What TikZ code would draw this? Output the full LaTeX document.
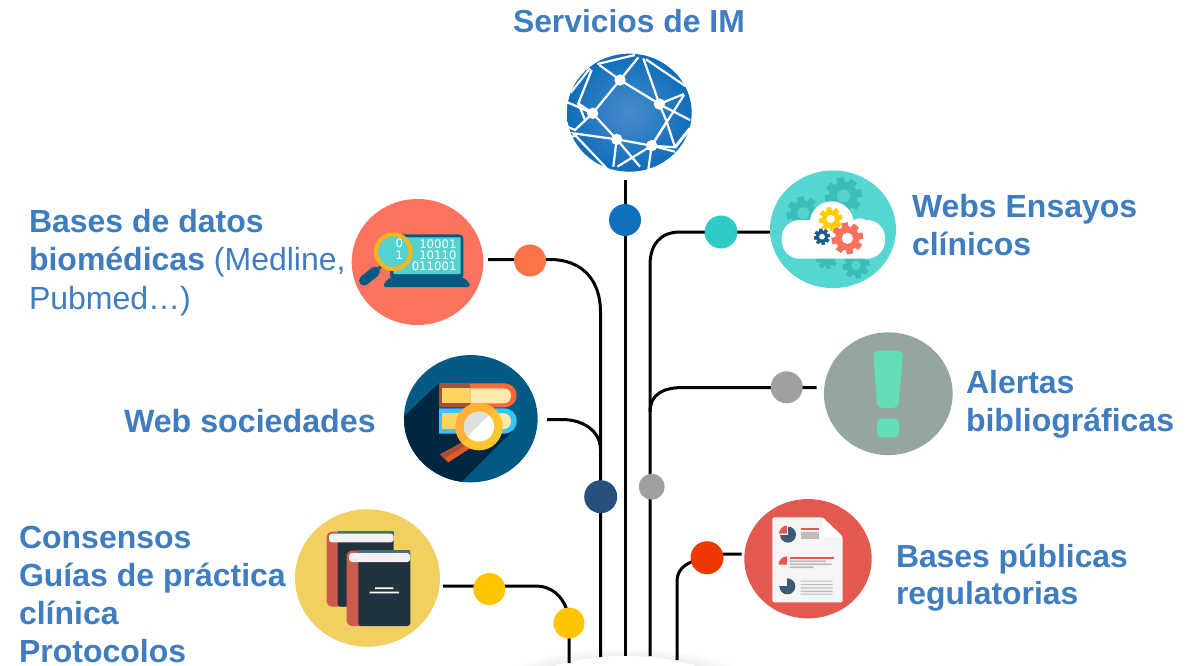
\documentclass[tikz,border=0pt]{standalone}
\usepackage{fontspec}
\usetikzlibrary{shapes.geometric,backgrounds}
\setmainfont{Liberation Sans}
\newfontfamily\monof{DejaVu Sans}
\definecolor{lbl}{HTML}{3F7DC0}
\definecolor{globeA}{HTML}{4A8CCB}
\definecolor{globeB}{HTML}{0E6DB9}
\definecolor{scr}{HTML}{55D2CF}
\definecolor{navy}{HTML}{045A85}
\definecolor{dk}{HTML}{01263F}
\definecolor{bookd}{HTML}{223340}
\definecolor{spine}{HTML}{CB5B4D}
\definecolor{pie}{HTML}{3D5A70}
\definecolor{repr}{HTML}{E3594F}
\definecolor{ringy}{HTML}{FDB614}
\definecolor{orng}{HTML}{FF6A33}
\definecolor{brwn}{HTML}{A94F33}
\definecolor{palep}{HTML}{FFE9AE}
\definecolor{yelp}{HTML}{FFD561}
\definecolor{skyb}{HTML}{35C6FF}
\definecolor{hand}{HTML}{E5582A}
\definecolor{ringa}{HTML}{FFC52F}
\definecolor{ringb}{HTML}{FFB13A}
\definecolor{teal2}{HTML}{466E82}
\definecolor{gbg}{HTML}{3CBDB6}
\definecolor{gy}{HTML}{FFCD00}
\definecolor{gn}{HTML}{1B5E87}
\definecolor{gr}{HTML}{F9705F}
\definecolor{mint}{HTML}{62DDB7}
\definecolor{rulec}{HTML}{BDBDBD}
\definecolor{icbases}{HTML}{FD7360}
\definecolor{iccons}{HTML}{F1CF60}
\definecolor{icens}{HTML}{55D6D0}
\definecolor{icalert}{HTML}{94A5A2}
\definecolor{dottop}{HTML}{0F70BE}
\definecolor{dotbases}{HTML}{FF7348}
\definecolor{dotweb}{HTML}{27507A}
\definecolor{dotcons}{HTML}{FFC600}
\definecolor{dotens}{HTML}{2ECBC7}
\definecolor{dotgrey}{HTML}{A0A0A2}
\definecolor{dotreg}{HTML}{EE3A00}
\newcommand\lblfont[2]{\fontsize{#1}{#2}\selectfont}
\newcommand\cogwheel[6]{%
  \foreach \a in {1,...,#4}{%
    \fill[#5,rotate around={\a*360/#4+10:(#1,#2)}] (#1-#3*0.2,#2-#3) rectangle (#1+#3*0.2,#2+#3);}%
  \fill[#5] (#1,#2) circle[radius=#3*0.78];
  \fill[#6] (#1,#2) circle[radius=#3*0.36];}
\tikzset{
  x=1pt,y=-1pt,
  wire/.style={line width=3pt,black},
  dotn/.style={circle,inner sep=0pt,outer sep=0pt,draw=none},
  icon/.style={ellipse,inner sep=0pt,outer sep=0pt,draw=none},
  lab/.style={anchor=north west,inner sep=0pt,outer sep=0pt,align=left,text=lbl,font=\bfseries\lblfont{32}{38.5}},
  zoomed/.style={scale=0.33333},
  glw/.style={line width=2.2pt,white}
}
\begin{document}
\begin{tikzpicture}
\useasboundingbox (0,0) rectangle (1201,665);
% icon discs
\node[icon,minimum width=125pt,minimum height=118pt] (globe) at (629.5,113) {};
\node[icon,fill=icbases,minimum width=131.6pt,minimum height=126pt] (iconbases) at (417.5,262) {};
\node[icon,fill=navy,minimum width=133.7pt,minimum height=127.3pt] (iconweb) at (470.8,418.7) {};
\node[icon,fill=iccons,minimum width=145pt,minimum height=137.4pt] (iconcons) at (367.5,578) {};
\node[icon,fill=icens,minimum width=126pt,minimum height=117.6pt] (iconens) at (833,229.3) {};
\node[icon,fill=icalert,minimum width=128.7pt,minimum height=122.7pt] (iconalert) at (888.3,393.7) {};
\node[icon,fill=repr,minimum width=127.4pt,minimum height=119.3pt] (iconreg) at (808,558.7) {};
% dots
\node[dotn,fill=dottop,minimum size=32pt] (dtop) at (625,220) {};
\node[dotn,fill=dotbases,minimum size=32pt] (dbases) at (530,260.5) {};
\node[dotn,fill=dotweb,minimum size=33pt] (dweb) at (600.7,496.7) {};
\node[dotn,fill=dotcons,minimum size=32pt] (dcons) at (489.3,589) {};
\node[dotn,fill=dotcons,minimum size=31pt] (dcons2) at (569,623) {};
\node[dotn,fill=dotens,minimum size=33pt] (dens) at (721,232) {};
\node[dotn,fill=dotgrey,minimum size=32pt] (dalert) at (786.7,387.3) {};
\node[dotn,fill=dotgrey,minimum size=26pt] (dgrey) at (651.7,486.7) {};
\node[dotn,fill=dotreg,minimum size=33pt] (dreg) at (707,557.7) {};
% wire ends
\coordinate (sglobe) at (625,180);
\coordinate (sbases) at (488,259.5);
\coordinate (sweb) at (547,419.5);
\coordinate (scons) at (443,586);
\coordinate (sens) at (770,232);
\coordinate (salert) at (816.7,387.5);
\coordinate (sreg) at (741.7,554);
\coordinate (bleft) at (600.5,657);
\coordinate (bmid) at (625,656);
\coordinate (bright) at (650,656);
\coordinate (breg) at (677,660);
\coordinate (bcons) at (569,663);
\begin{scope}[on background layer]
\fill[white] (0,0) rectangle (1201,665);
\begin{scope}
\clip (0,0) rectangle (1201,665);
\shade[inner color=black!22,outer color=white] (625,676) ellipse[x radius=118,y radius=28];
\fill[white] (625,700) ellipse[x radius=112,y radius=44];
\end{scope}
% wires
\draw[wire] (sglobe) -- (dtop.center) -- (bmid);
\draw[wire] (sbases) -- (550,259.5) .. controls (582,259.5) and (600.5,280) .. (600.5,312) -- (dweb.center) -- (bleft);
\draw[wire] (sweb) -- (562,419.5) .. controls (582,419.5) and (600.5,430) .. (600.5,450);
\draw[wire] (sens) -- (680,232) .. controls (660,232) and (650,245) .. (650,265) -- (bright);
\draw[wire] (salert) -- (683,387.5) .. controls (662,387.5) and (650,395) .. (650,412);
\draw[wire] (sreg) -- (707,554) -- (691.7,561.7) .. controls (682,566) and (677,572) .. (677,582) -- (breg);
\draw[wire] (scons) -- (535,586) .. controls (552,586) and (562,596) .. (567,610) -- (dcons2.center) -- (bcons);
\end{scope}
% globe
\begin{scope}[shift={(540,50)},zoomed]
\shade[inner color=globeA,outer color=globeB] (268,188) ellipse[x radius=187,y radius=177];
\draw[glw] (240,90) -- (358,162) -- (380,215) -- (335,287) -- (230,268) -- (158,190) -- cycle;
\draw[glw] (240,90) -- (178,45) (240,90) -- (295,22) (358,162) -- (310,25) (358,162) -- (432,132);
\draw[glw] (172,42) -- (285,15) (318,28) -- (436,108) (150,55) -- (92,128) (155,60) -- (115,160) -- (158,190);
\draw[glw] (158,190) -- (78,155) (158,190) -- (105,240) -- (75,228) (115,160) -- (135,210);
\draw[glw] (372,170) -- (450,210) (432,135) -- (335,287) (380,215) -- (405,292) -- (335,287);
\draw[glw] (230,268) -- (100,250) -- (200,355) (230,268) -- (220,350) (230,268) -- (300,350) (335,287) -- (232,350);
\draw[glw] (335,287) -- (325,358) (335,287) -- (405,305) (105,258) -- (85,262);
\draw[glw,line width=3pt] (450,235) -- (405,292);
\foreach \c in {(240,90),(358,162),(158,190),(230,268),(335,287)}
  \fill[white] \c circle[radius=17];
\end{scope}
% laptop icon
\begin{scope}[shift={(340,190)},zoomed]
\fill[navy,rounded corners=4pt] (150,133) rectangle (370,268);
\fill[scr,rounded corners=1pt] (160,142) rectangle (362,252);
\fill[navy,rounded corners=5pt] (150,260) -- (370,260) -- (397,291) -- (124,291) -- cycle;
\node[font=\monof\fontsize{11.7}{11}\selectfont,text=white,inner sep=0pt,align=right,anchor=east] (bits) at (350,197) {10001\\10110\\011001};
\draw[line width=10pt,line cap=round,navy] (105,245) -- (72,272);
\draw[line width=3pt,navy] (125,228) -- (100,248);
\fill[scr] (160,185) circle[radius=52];
\draw[line width=4pt,ringy] (160,185) circle[radius=52];
\node[font=\monof\fontsize{11.7}{12}\selectfont,text=white,inner sep=0pt,align=center] (bitsb) at (178,176) {0\\1};
\end{scope}
% books and magnifier icon
\begin{scope}[shift={(395,345)},zoomed]
\begin{scope}
\clip (227,221) ellipse[x radius=200,y radius=191];
\fill[dk] (132,115) -- (20,220) -- (20,420) -- (190,420) -- (350,260) -- (230,180) -- cycle;
\end{scope}
\fill[orng] (132,115) -- (325,115) .. controls (350,115) and (365,130) .. (365,151) .. controls (365,172) and (350,187) .. (325,187) -- (132,187) -- cycle;
\fill[brwn] (132,115) rectangle (226,187);
\fill[palep] (226,130) -- (325,130) .. controls (340,130) and (348,140) .. (348,152) .. controls (348,165) and (340,175) .. (325,175) -- (226,175) -- cycle;
\fill[yelp] (142,130) rectangle (226,175);
\fill[skyb] (132,190) -- (325,190) .. controls (350,190) and (365,205) .. (365,228) .. controls (365,250) and (350,266) .. (325,266) -- (132,266) -- cycle;
\fill[palep] (226,205) -- (325,205) .. controls (340,205) and (348,215) .. (348,228) .. controls (348,242) and (340,252) .. (325,252) -- (226,252) -- cycle;
\fill[yelp] (142,205) rectangle (226,252);
\fill[hand] (205,290) -- (225,310) -- (160,352) -- (135,328) -- cycle;
\fill[brwn] (205,290) -- (215,300) -- (147,340) -- (135,328) -- cycle;
\fill[ringa] (252,245) circle[radius=71];
\begin{scope}
\clip (252,245) circle[radius=71];
\fill[ringb] (180,316) -- (180,174) -- (320,174) -- cycle;
\end{scope}
\fill[white] (252,245) circle[radius=45];
\begin{scope}
\clip (252,245) circle[radius=45];
\fill[black!13] (205,285) -- (205,198) -- (295,198) -- cycle;
\end{scope}
\end{scope}
% red and dark books icon
\begin{scope}[shift={(285,500)},zoomed]
\fill[spine,rounded corners=5pt] (125,95) rectangle (190,320);
\fill[bookd,rounded corners=3pt] (158,95) rectangle (326,320);
\fill[teal2] (158,94) rectangle (326,102);
\fill[white!95!black,rounded corners=3pt] (132,101) rectangle (326,127);
\fill[spine,rounded corners=5pt] (185,152) rectangle (250,378);
\fill[bookd,rounded corners=3pt] (220,152) rectangle (376,378);
\fill[teal2] (220,151) rectangle (376,159);
\fill[white!95!black,rounded corners=3pt] (192,159) rectangle (376,186);
\fill[white] (270,262) rectangle (325,267) (254,275) rectangle (342,280);
\end{scope}
% cloud icon
\begin{scope}[shift={(760,160)},zoomed]
\cogwheel{250}{108}{55}{8}{gbg}{scr}
\cogwheel{130}{160}{50}{8}{gbg}{scr}
\cogwheel{200}{295}{32}{8}{gbg}{gbg}
\cogwheel{288}{315}{40}{8}{gbg}{scr}
\fill[white,rounded corners=18pt] (65,180) rectangle (375,296);
\fill[white] (215,190) circle[radius=66];
\fill[white] (300,205) circle[radius=30];
\cogwheel{212}{177}{35}{8}{gy}{white}
\cogwheel{186}{230}{24}{8}{gn}{white}
\cogwheel{262}{235}{47}{8}{gr}{white}
\end{scope}
% alert icon
\begin{scope}[shift={(630,330)},zoomed]
\fill[mint,rounded corners=5pt] (729,62) -- (820,62) -- (805,234) -- (742,234) -- cycle;
\fill[mint,rounded corners=5pt] (741,265) rectangle (808,322);
\end{scope}
% report icon
\begin{scope}[shift={(500,490)},zoomed]
\fill[black!4,rounded corners=2pt] (817,82) -- (968,82) -- (1028,140) -- (1028,337) -- (817,337) -- cycle;
\fill[white] (968,82) -- (1028,140) -- (968,140) -- cycle;
\fill[pie] (864,134) circle[radius=24];
\fill[black!4] (836,106) rectangle (864,134);
\fill[repr] (861,131) -- (837,131) arc[start angle=180,end angle=270,radius=24] -- cycle;
\fill[repr] (902,113) rectangle (956,119);
\fill[rulec] (902,126) rectangle (956,148);
\fill[repr] (861,224) -- (836,224) arc[start angle=180,end angle=270,radius=25] -- cycle;
\fill[repr] (869,200) rectangle (1001,206);
\fill[rulec] (869,211) rectangle (978,216) (869,220) rectangle (995,225) (869,229) rectangle (941,234);
\fill[pie] (862,289) circle[radius=24];
\fill[black!4] (838,265) rectangle (862,289);
\fill[rulec] (902,272) rectangle (998,275) (902,282) rectangle (998,285) (902,292) rectangle (998,296) (902,302) rectangle (998,306) (902,311) rectangle (998,314);
\end{scope}
% labels
\node[lab,font=\bfseries\lblfont{31.85}{38}] (ltop) at (513,9) {Servicios de IM};
\node[lab] (lbases) at (29,209) {Bases de datos\\biomédicas {\mdseries (Medline,}\\{\mdseries Pubmed…)}};
\node[lab,font=\bfseries\lblfont{32.2}{38}] (lweb) at (124,409) {Web sociedades};
\node[lab,font=\bfseries\lblfont{32}{38}] (lcons) at (19,526) {Consensos\\Guías de práctica\\clínica\\Protocolos};
\node[lab] (lens) at (912,194) {Webs Ensayos\\clínicos};
\node[lab] (lalert) at (966,370) {Alertas\\bibliográficas};
\node[lab,font=\bfseries\lblfont{31.85}{37}] (lreg) at (896,544) {Bases públicas\\regulatorias};
\end{tikzpicture}
\end{document}
